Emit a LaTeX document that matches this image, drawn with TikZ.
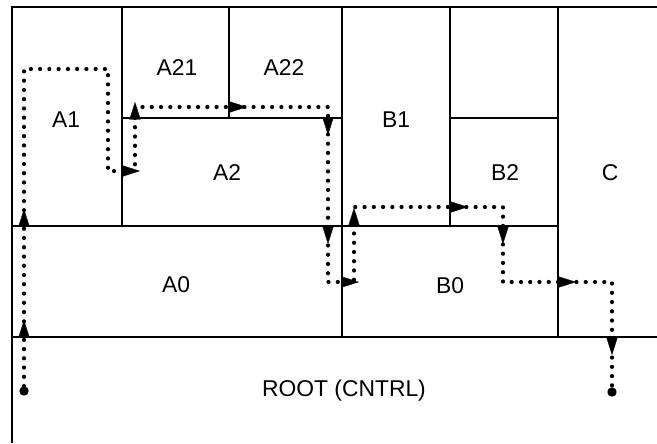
\documentclass[tikz,border=0pt]{standalone}
\usepackage{fontspec}
\setmainfont{Liberation Sans}
\usepackage{tikz}
\usetikzlibrary{arrows.meta}

\begin{document}
\begin{tikzpicture}[
    x=0.03cm, y=-0.03cm,
    wall/.style={line width=2pt},
    region/.style={font=\fontsize{19.5}{22}\selectfont},
    trail/.style={line width=3.6pt, line cap=round, dash pattern=on 0pt off 7.9pt},
    tip/.style={line width=0.2pt, -{Triangle[length=15pt, width=9.5pt]}},
    stop/.style={circle, fill, inner sep=0pt, minimum size=8pt},
]
\useasboundingbox (0,0) rectangle (657,443);

% Walls
\draw[wall] (12,443) -- (12,7) -- (657,7);
\draw[wall] (12,337) -- (657,337);
\draw[wall] (12,226) -- (558,226);
\draw[wall] (122,7) -- (122,226);
\draw[wall] (122,118) -- (342,118);
\draw[wall] (229,7) -- (229,118);
\draw[wall] (342,7) -- (342,337);
\draw[wall] (450,7) -- (450,226);
\draw[wall] (450,118) -- (558,118);
\draw[wall] (558,7) -- (558,337);

% Regions
\node[region] (a1) at (66,120) {A1};
\node[region] (a21) at (177,68) {A21};
\node[region] (a22) at (284,68) {A22};
\node[region] (a2) at (227,173) {A2};
\node[region] (b1) at (396,120) {B1};
\node[region] (b2) at (505,173) {B2};
\node[region] (c) at (610,173) {C};
\node[region] (a0) at (176,285) {A0};
\node[region] (b0) at (450,286) {B0};
\node[region] (root) at (344,391) {ROOT (CNTRL)};

% Path
\node[stop] (start) at (24,391) {};
\node[stop] (end) at (612,392) {};
\draw[trail] (start) -- (24,69) -- (108,69) -- (108,171) -- (135,171)
    -- (135,107) -- (328,107) -- (328,282) -- (354,282) -- (354,207)
    -- (503,207) -- (503,282) -- (612,282) -- (end);

% Crossings
\foreach \x/\y/\dx/\dy in {24/337/0/-17, 24/226/0/-17, 122/171/18/0,
    135/118/0/-16, 229/107/18/0, 328/116/0/19, 328/226/0/18,
    342/282/17/0, 354/226/0/-18, 450/207/18/0, 503/226/0/18,
    558/282/18/0, 612/337/0/18}
  \draw[tip] (\x,\y) -- ++(\dx,\dy);
\end{tikzpicture}
\end{document}
